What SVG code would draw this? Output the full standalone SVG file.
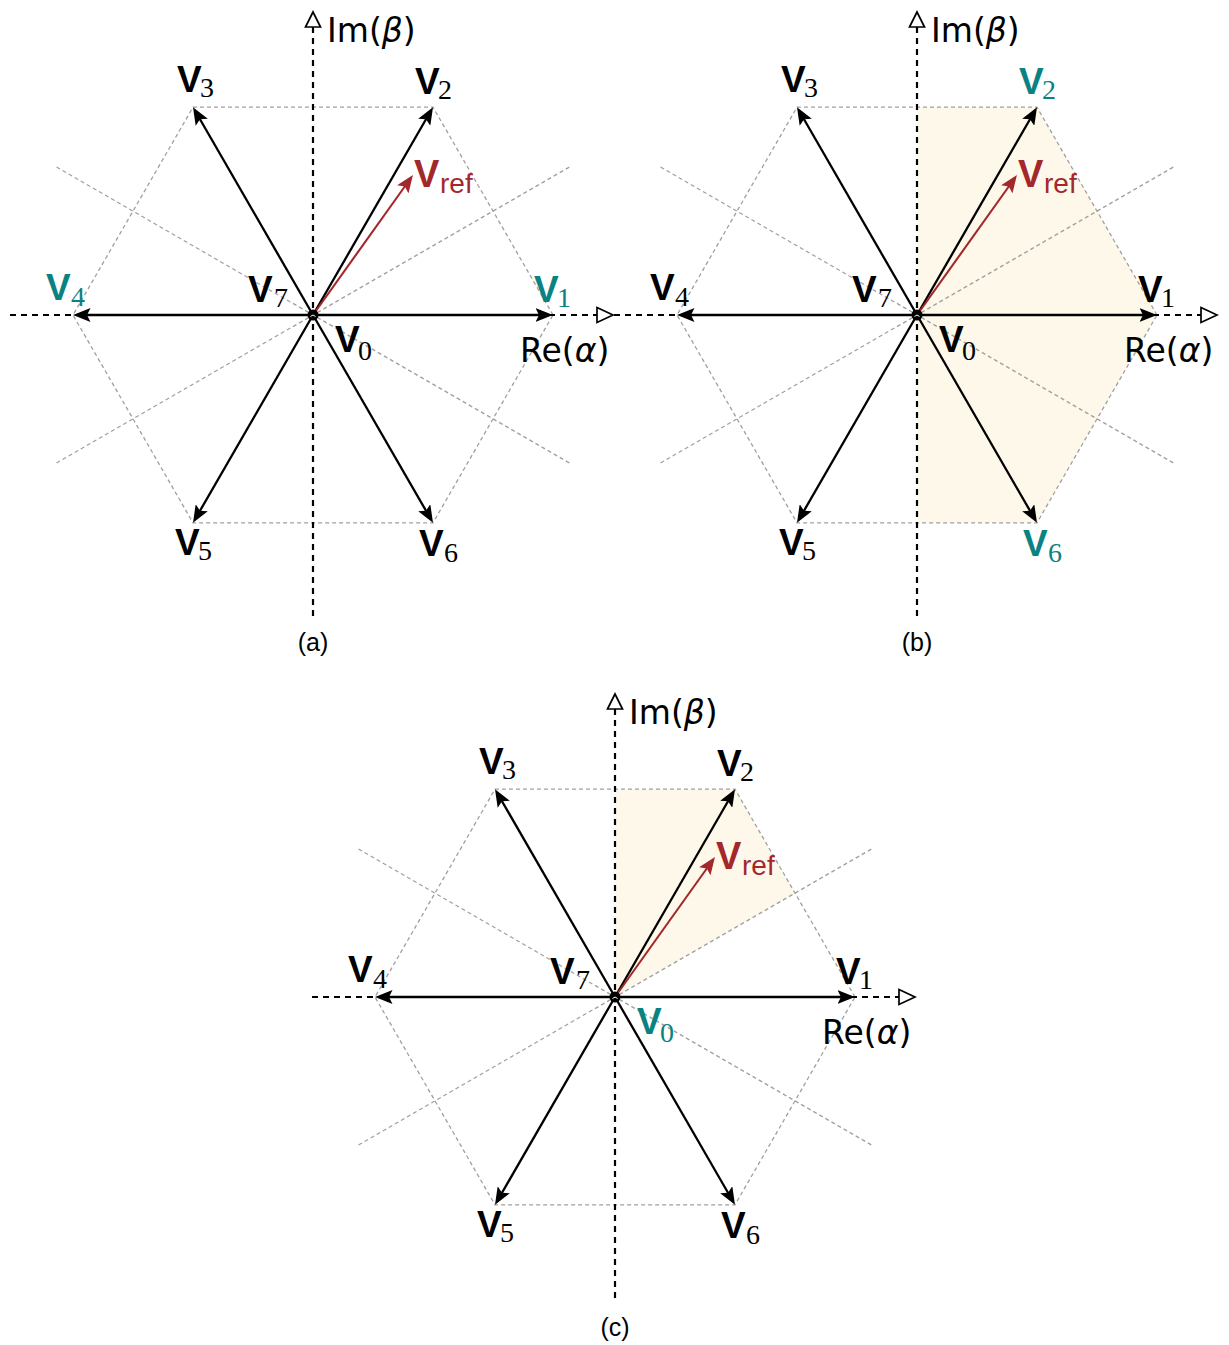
<svg xmlns="http://www.w3.org/2000/svg" width="1229" height="1345" viewBox="0 0 1229 1345">
<style>
.vb{font-family:"Liberation Sans",Arial,sans-serif;font-weight:bold;font-size:37px;fill:#000}
.sub{font-family:"Liberation Serif","DejaVu Serif",serif;font-size:28px;fill:#000}
.teal .vb,.teal .sub{fill:#0a8282}
.ax{font-family:"DejaVu Sans",sans-serif;font-size:33px;fill:#000}
.refV{font-family:"Liberation Sans",Arial,sans-serif;font-weight:bold;font-size:38px;fill:#a3282b}
.ref{font-family:"Liberation Sans",Arial,sans-serif;font-size:28px;fill:#a3282b}
.cap{font-family:"Liberation Sans",Arial,sans-serif;font-size:25px;fill:#000}
.grid{stroke:#a0a0a0;stroke-width:1.3;stroke-dasharray:4 3;fill:none}
.axis{stroke:#000;stroke-width:2.2;stroke-dasharray:6 5;fill:none}
.tri{fill:#fff;stroke:#000;stroke-width:1.7}
.vec{stroke:#000;stroke-width:2.3;fill:none;marker-end:url(#ah)}
.vr{stroke:#a3282b;stroke-width:2.1;fill:none;marker-end:url(#ahr)}
.shade{fill:#fdf8ea;stroke:none}
</style>
<defs>
<marker id="ah" markerUnits="userSpaceOnUse" markerWidth="18" markerHeight="14" refX="9" refY="7" orient="auto" viewBox="0 0 18 14">
<path d="M0,0 L17.5,7 L0,14 L3.5,7 z" fill="#000"/>
</marker>
<marker id="ahr" markerUnits="userSpaceOnUse" markerWidth="18" markerHeight="14" refX="9" refY="7" orient="auto" viewBox="0 0 18 14">
<path d="M0,0 L17.5,7 L0,14 L3.5,7 z" fill="#a3282b"/>
</marker>
<g id="frame">
<polygon class="grid" points="240,0 120,-207.8 -120,-207.8 -240,0 -120,207.8 120,207.8"/>
<line class="grid" x1="-256.5" y1="-148" x2="256.5" y2="148"/>
<line class="grid" x1="-256.5" y1="148" x2="256.5" y2="-148"/>
<line class="axis" x1="-303" y1="0" x2="284" y2="0"/>
<polygon class="tri" points="284,-7.5 300,0 284,7.5"/>
<line class="axis" x1="0" y1="-288" x2="0" y2="305"/>
<polygon class="tri" points="-7.5,-288 0,-303 7.5,-288"/>
</g>
<g id="vecs">
<line class="vec" x1="0" y1="0" x2="231.5" y2="0"/>
<line class="vec" x1="0" y1="0" x2="115.75" y2="-200.5"/>
<line class="vec" x1="0" y1="0" x2="-115.75" y2="-200.5"/>
<line class="vec" x1="0" y1="0" x2="-231.5" y2="0"/>
<line class="vec" x1="0" y1="0" x2="-115.75" y2="200.5"/>
<line class="vec" x1="0" y1="0" x2="115.75" y2="200.5"/>
<line class="vr" x1="0" y1="0" x2="95" y2="-133"/>
<circle cx="0" cy="0" r="5.5" fill="#000"/>
<path d="M-2.5,1.5 Q0,-1.5 2.5,1.5" stroke="#fff" stroke-width="1" fill="none"/>
</g>
</defs>

<!-- Diagram (a) -->
<g id="diagram-a" transform="translate(313,315)">
<g id="a-connectors">
<use href="#frame"/>
<use href="#vecs"/>
</g>
<g id="a-im"><text class="ax" x="14" y="-273">Im(<tspan font-style="italic">β</tspan>)</text></g>
<g id="a-re"><text class="ax" x="207" y="47">Re(<tspan font-style="italic">α</tspan>)</text></g>
<g id="a-v1" class="teal"><text class="vb" x="221" y="-13">V</text><text class="sub" x="244" y="-8">1</text></g>
<g id="a-v2"><text class="vb" x="102" y="-221">V</text><text class="sub" x="125" y="-216">2</text></g>
<g id="a-v3"><text class="vb" x="-136" y="-223">V</text><text class="sub" x="-113" y="-218">3</text></g>
<g id="a-v4" class="teal"><text class="vb" x="-267" y="-15">V</text><text class="sub" x="-242" y="-9">4</text></g>
<g id="a-v5"><text class="vb" x="-138" y="240">V</text><text class="sub" x="-115" y="245">5</text></g>
<g id="a-v6"><text class="vb" x="106" y="241">V</text><text class="sub" x="131" y="247">6</text></g>
<g id="a-v7"><text class="vb" x="-65" y="-13">V</text><text class="sub" x="-39" y="-8">7</text></g>
<g id="a-v0"><text class="vb" x="22" y="37">V</text><text class="sub" x="45" y="45">0</text></g>
<g id="a-vref"><text class="refV" x="101" y="-128">V</text><text class="ref" x="127" y="-122">ref</text></g>
<g id="a-cap"><text class="cap" x="0" y="336" text-anchor="middle">(a)</text></g>
</g>

<!-- Diagram (b) -->
<g id="diagram-b" transform="translate(917,315)">
<polygon class="shade" points="0,-207.8 120,-207.8 240,0 120,207.8 0,207.8"/>
<g id="b-connectors">
<use href="#frame"/>
<use href="#vecs"/>
</g>
<g id="b-im"><text class="ax" x="14" y="-273">Im(<tspan font-style="italic">β</tspan>)</text></g>
<g id="b-re"><text class="ax" x="207" y="47">Re(<tspan font-style="italic">α</tspan>)</text></g>
<g id="b-v1"><text class="vb" x="221" y="-13">V</text><text class="sub" x="244" y="-8">1</text></g>
<g id="b-v2" class="teal"><text class="vb" x="102" y="-221">V</text><text class="sub" x="125" y="-216">2</text></g>
<g id="b-v3"><text class="vb" x="-136" y="-223">V</text><text class="sub" x="-113" y="-218">3</text></g>
<g id="b-v4"><text class="vb" x="-267" y="-15">V</text><text class="sub" x="-242" y="-9">4</text></g>
<g id="b-v5"><text class="vb" x="-138" y="240">V</text><text class="sub" x="-115" y="245">5</text></g>
<g id="b-v6" class="teal"><text class="vb" x="106" y="241">V</text><text class="sub" x="131" y="247">6</text></g>
<g id="b-v7"><text class="vb" x="-65" y="-13">V</text><text class="sub" x="-39" y="-8">7</text></g>
<g id="b-v0"><text class="vb" x="22" y="37">V</text><text class="sub" x="45" y="45">0</text></g>
<g id="b-vref"><text class="refV" x="101" y="-128">V</text><text class="ref" x="127" y="-122">ref</text></g>
<g id="b-cap"><text class="cap" x="0" y="336" text-anchor="middle">(b)</text></g>
</g>

<!-- Diagram (c) -->
<g id="diagram-c" transform="translate(615,997)">
<polygon class="shade" points="0,0 0,-207.8 120,-207.8 180,-103.9"/>
<g id="c-connectors">
<use href="#frame"/>
<use href="#vecs"/>
</g>
<g id="c-im"><text class="ax" x="14" y="-273">Im(<tspan font-style="italic">β</tspan>)</text></g>
<g id="c-re"><text class="ax" x="207" y="47">Re(<tspan font-style="italic">α</tspan>)</text></g>
<g id="c-v1"><text class="vb" x="221" y="-13">V</text><text class="sub" x="244" y="-8">1</text></g>
<g id="c-v2"><text class="vb" x="102" y="-221">V</text><text class="sub" x="125" y="-216">2</text></g>
<g id="c-v3"><text class="vb" x="-136" y="-223">V</text><text class="sub" x="-113" y="-218">3</text></g>
<g id="c-v4"><text class="vb" x="-267" y="-15">V</text><text class="sub" x="-242" y="-9">4</text></g>
<g id="c-v5"><text class="vb" x="-138" y="240">V</text><text class="sub" x="-115" y="245">5</text></g>
<g id="c-v6"><text class="vb" x="106" y="241">V</text><text class="sub" x="131" y="247">6</text></g>
<g id="c-v7"><text class="vb" x="-65" y="-13">V</text><text class="sub" x="-39" y="-8">7</text></g>
<g id="c-v0" class="teal"><text class="vb" x="22" y="37">V</text><text class="sub" x="45" y="45">0</text></g>
<g id="c-vref"><text class="refV" x="101" y="-128">V</text><text class="ref" x="127" y="-122">ref</text></g>
<g id="c-cap"><text class="cap" x="0" y="339" text-anchor="middle">(c)</text></g>
</g>
</svg>
